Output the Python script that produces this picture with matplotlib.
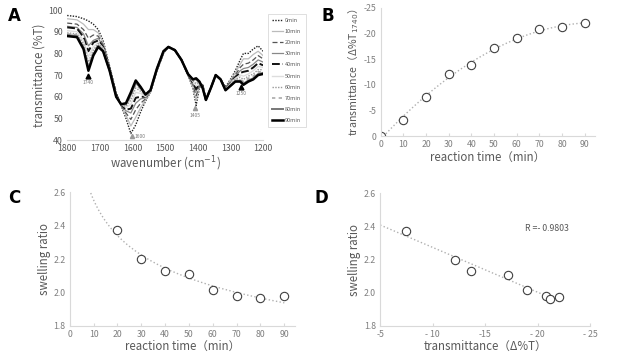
import numpy as np
import matplotlib
matplotlib.use("Agg")
import matplotlib.pyplot as plt

plt.rcParams['font.family'] = ['Noto Sans CJK JP', 'DejaVu Sans']
plt.rcParams['mathtext.fontset'] = 'dejavusans'

# ---------------- Panel A data (IR spectra) ----------------
wavenumber = [1800, 1770, 1750, 1735, 1720, 1705, 1690, 1670, 1650, 1635, 1620, 1605, 1590,
              1575, 1560, 1545, 1525, 1505, 1490, 1470, 1450, 1430, 1415, 1405, 1395, 1385,
              1375, 1360, 1345, 1330, 1315, 1300, 1285, 1270, 1260, 1245, 1230, 1215, 1200]
spec_0 = [97.5, 97, 96, 95, 93.5, 91, 86, 74, 62, 56, 50, 43, 47, 53, 58, 62, 72, 80, 83, 81.5, 77, 70,
          64, 56, 64, 66, 58.5, 64, 70, 68, 64.5, 68, 72, 77, 80, 80, 82, 83.5, 81]
spec_10 = [96, 95.5, 93.5, 91, 91, 89.5, 85, 73.5, 61.5, 56, 51.5, 46.5, 50.5, 55, 58.5, 62, 72, 80, 83,
           81.5, 77, 70, 64.5, 58.5, 64.5, 65.5, 58.5, 64, 70, 68, 64, 67.5, 71, 75, 77.5, 77.5, 79.5, 81, 79]
spec_20 = [94, 93.5, 91, 87, 88.5, 88, 84, 73.5, 61.5, 56, 52.5, 49.5, 54, 57, 59, 62.5, 72.5, 80.5, 83,
           81.5, 77, 70, 65.5, 60.5, 65, 65.5, 58.5, 64, 70, 68, 64, 67, 70, 73.5, 75, 75.5, 77, 79, 77.5]
spec_30 = [92.5, 92, 89, 83.5, 86, 87, 83.5, 73, 61, 56, 53.5, 52.5, 57, 59, 59.5, 62.5, 72.5, 80.5, 83,
           81.5, 77, 70, 66, 62.5, 65.5, 65, 58.5, 64, 70, 68, 64, 66.5, 69.5, 72, 73, 73.5, 75, 77, 76]
spec_40 = [92, 91.5, 87.5, 81, 85, 86, 83, 73, 61, 56.5, 54, 54.5, 59.5, 60, 60, 62.5, 72.5, 80.5, 83,
           81.5, 77, 70.5, 66.5, 63.5, 66, 65, 58.5, 64, 70, 68, 63.5, 66, 69, 71, 71.5, 72, 73.5, 75.5, 74.5]
spec_50 = [90.5, 90, 86, 78.5, 83, 85, 82.5, 72.5, 60.5, 56.5, 55, 56.5, 62, 61.5, 60, 62.5, 72.5, 80.5, 83,
           81.5, 77, 70.5, 67, 65, 66, 64.5, 58.5, 64, 70, 68, 63.5, 66, 68.5, 70, 69.5, 70.5, 72, 74, 73.5]
spec_60 = [89.5, 89, 84.5, 76, 81.5, 84.5, 82, 72.5, 60.5, 56.5, 55.5, 58.5, 64, 62.5, 60.5, 63, 73, 81, 83,
           81.5, 77, 70.5, 67.5, 66, 66.5, 64.5, 58.5, 64, 70, 68, 63.5, 65.5, 68, 69, 68, 69.5, 70.5, 72.5, 72.5]
spec_70 = [89, 88.5, 83.5, 74.5, 80.5, 84, 81.5, 72, 60, 56.5, 56.5, 60, 65.5, 63.5, 60.5, 63, 73, 81, 83,
           81.5, 77, 70.5, 67.5, 67, 66.5, 64, 58.5, 64, 70, 68, 63, 65.5, 67.5, 68, 67, 68.5, 69.5, 71.5, 71.5]
spec_80 = [88.5, 88, 82.5, 73, 79.5, 83.5, 81, 72, 60, 56.5, 56.5, 61, 66.5, 64, 61, 63, 73, 81, 83,
           81.5, 77, 70.5, 68, 68, 67, 64, 58.5, 64, 70, 68, 63, 65, 67, 67.5, 66, 67.5, 68.5, 70.5, 71]
spec_90 = [88, 87.5, 82, 72, 79, 83, 81, 72, 60, 56.5, 57, 62, 67.5, 64.5, 61, 63, 73, 81, 83,
           81.5, 77, 70.5, 68, 68.5, 67, 64, 58.5, 64, 70, 68, 63, 65, 67, 67, 65.5, 67, 68, 70, 70.5]
spec_labels = ["0min", "10min", "20min", "30min", "40min", "50min", "60min", "70min", "80min", "90min"]

# ---------------- Panels B, C, D data ----------------
time_b = [0, 10, 20, 30, 40, 50, 60, 70, 80, 90]
delta_t = [0, -3.1, -7.6, -12.1, -13.8, -17.2, -19.1, -20.8, -21.3, -22.0]
time_c = [20, 30, 40, 50, 60, 70, 80, 90]
swelling = [2.374, 2.198, 2.128, 2.108, 2.014, 1.978, 1.964, 1.976]
delta_t_d = [-7.5, -12.1, -13.7, -17.2, -19.0, -20.8, -21.2, -22.0]
r_text = "R =- 0.9803"

gray_txt = '#595959'
tick_txt = '#7f7f7f'
axis_col = '#d9d9d9'
trend_col = '#b0b0b0'
lab_fs = 8.3

fig = plt.figure(figsize=(6.4, 3.6), dpi=100)

def style_axes(ax, show_left=True):
    for s in ['top', 'right']:
        ax.spines[s].set_visible(False)
    ax.spines['left'].set_visible(show_left)
    ax.spines['left'].set_color(axis_col)
    ax.spines['bottom'].set_color(axis_col)
    ax.tick_params(colors=tick_txt, labelsize=6.3, length=0, pad=3)
    ax.tick_params(axis='x', length=2.5, color=axis_col, direction='in')

# ---------------- Panel A ----------------
axA = fig.add_axes([0.105, 0.611, 0.306, 0.361])
styles = [
    dict(color='#222222', ls=(0, (1, 1)), lw=1.0),
    dict(color='#bbbbbb', ls='-', lw=0.9),
    dict(color='#555555', ls=(0, (4, 2)), lw=0.9),
    dict(color='#888888', ls='-', lw=0.9),
    dict(color='#111111', ls=(0, (4, 1.5)), lw=1.4),
    dict(color='#dddddd', ls='-', lw=1.0),
    dict(color='#999999', ls=(0, (1, 1)), lw=1.0),
    dict(color='#aaaaaa', ls=(0, (2, 2)), lw=1.2),
    dict(color='#777777', ls='-', lw=1.4),
    dict(color='#000000', ls='-', lw=1.8),
]
specs = [spec_0, spec_10, spec_20, spec_30, spec_40, spec_50, spec_60, spec_70, spec_80, spec_90]
for s, st, lab in zip(specs, styles, spec_labels):
    axA.plot(wavenumber, s, label=lab, **st)
axA.set_xlim(1800, 1200)
axA.set_ylim(40, 100)
axA.set_xticks([1800, 1700, 1600, 1500, 1400, 1300, 1200])
axA.set_yticks([40, 50, 60, 70, 80, 90, 100])
style_axes(axA, show_left=False)
axA.tick_params(axis='x', length=0)
axA.tick_params(colors=gray_txt)
axA.set_xlabel("wavenumber (cm$^{-1}$)", color=gray_txt, fontsize=lab_fs, labelpad=1)
axA.set_ylabel("transmittance (%T)", color=gray_txt, fontsize=lab_fs, labelpad=2)
# peak annotations
axA.plot([1735], [69.6], marker='^', color='black', ms=3.5, ls='none')
axA.text(1735, 67.6, "1740", fontsize=3.5, color='#777777', ha='center', va='top')
axA.plot([1600], [41.8], marker='^', color='#999999', ms=3, ls='none')
axA.text(1593, 41.8, "1600", fontsize=3.5, color='#777777', ha='left', va='center')
axA.plot([1408], [54.6], marker='^', color='#999999', ms=3, ls='none')
axA.text(1408, 52.6, "1405", fontsize=3.5, color='#777777', ha='center', va='top')
axA.plot([1268], [64.6], marker='^', color='black', ms=3.5, ls='none')
axA.text(1268, 62.6, "1250", fontsize=3.5, color='#777777', ha='center', va='top')
leg = axA.legend(loc='upper left', bbox_to_anchor=(1.01, 0.995), fontsize=4, frameon=True,
                 handlelength=2.0, handletextpad=0.3, labelspacing=1.1, borderpad=0.8,
                 edgecolor='#d0d0d0', fancybox=False)
leg.get_frame().set_linewidth(0.6)
for t in leg.get_texts():
    t.set_color(gray_txt)

# ---------------- Panel B ----------------
axB = fig.add_axes([0.595, 0.622, 0.334, 0.356])
cB = np.polyfit(time_b, delta_t, 2)
xb = np.linspace(0, 90, 100)
axB.plot(xb, np.polyval(cB, xb), ls=':', color=trend_col, lw=1.0)
axB.plot(time_b, delta_t, 'o', mfc='white', mec='#404040', ms=6, mew=0.8)
axB.set_xlim(0, 94.4)
axB.set_ylim(0, -25)
axB.set_xticks(time_b)
axB.set_yticks([0, -5, -10, -15, -20, -25])
axB.set_yticklabels(["0", "-5", "-10", "-15", "-20", "-25"])
style_axes(axB)
axB.set_xlabel("reaction time（min）", color=gray_txt, fontsize=lab_fs, labelpad=1)
axB.set_ylabel("transmittance（Δ%T$_{1740}$）", color=gray_txt, fontsize=7.6, labelpad=2)

# ---------------- Panel C ----------------
axC = fig.add_axes([0.109, 0.095, 0.352, 0.371])
lx = np.log(time_c)
ly = np.log(swelling)
bC, aC = np.polyfit(lx, ly, 1)
xc = np.linspace(5, 90, 200)
axC.plot(xc, np.exp(aC) * xc ** bC, ls=':', color=trend_col, lw=1.0)
axC.plot(time_c, swelling, 'o', mfc='white', mec='#404040', ms=6, mew=0.8)
axC.set_xlim(0, 94.5)
axC.set_ylim(1.8, 2.6)
axC.set_xticks([0, 10, 20, 30, 40, 50, 60, 70, 80, 90])
axC.set_yticks([1.8, 2.0, 2.2, 2.4, 2.6])
axC.set_yticklabels(["1.8", "2.0", "2.2", "2.4", "2.6"])
style_axes(axC)
axC.set_xlabel("reaction time（min）", color=gray_txt, fontsize=lab_fs, labelpad=1)
axC.set_ylabel("swelling ratio", color=gray_txt, fontsize=lab_fs, labelpad=2)

# ---------------- Panel D ----------------
axD = fig.add_axes([0.594, 0.095, 0.328, 0.368])
cD = np.polyfit(delta_t_d, swelling, 1)
xd = np.linspace(-5, -21, 50)
axD.plot(xd, np.polyval(cD, xd), ls=':', color=trend_col, lw=1.0)
axD.plot(delta_t_d, swelling, 'o', mfc='white', mec='#404040', ms=6, mew=0.8)
axD.set_xlim(-5, -25)
axD.set_ylim(1.8, 2.6)
axD.set_xticks([-5, -10, -15, -20, -25])
axD.set_xticklabels(["-5", "- 10", "-15", "- 20", "- 25"])
axD.set_yticks([1.8, 2.0, 2.2, 2.4, 2.6])
axD.set_yticklabels(["1.8", "2.0", "2.2", "2.4", "2.6"])
style_axes(axD)
axD.set_xlabel("transmittance（Δ%T）", color=gray_txt, fontsize=lab_fs, labelpad=1)
axD.set_ylabel("swelling ratio", color=gray_txt, fontsize=lab_fs, labelpad=2)
axD.text(-18.8, 2.39, r_text, fontsize=6.3, color=gray_txt, ha='left', va='center')

# ---------------- Panel letters ----------------
for txt, x, y in [("A", 0.012, 0.955), ("B", 0.503, 0.955), ("C", 0.012, 0.45), ("D", 0.492, 0.45)]:
    fig.text(x, y, txt, fontsize=12, fontweight='bold', color='black', ha='left', va='center',
             family=['DejaVu Sans'])

fig.savefig("out.png", dpi=100)
